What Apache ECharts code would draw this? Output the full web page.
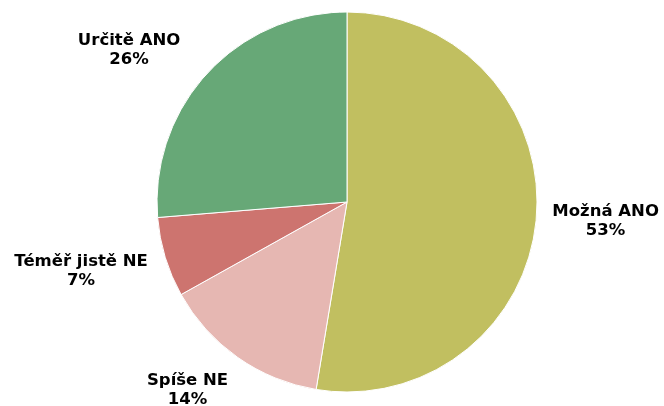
<!DOCTYPE html>
<html>
<head>
<meta charset="utf-8">
<script src="https://cdn.jsdelivr.net/npm/echarts@6/dist/echarts.min.js"></script>
<style>
  html, body { margin: 0; padding: 0; background: #fff; }
  #chart { width: 664px; height: 406px; }
</style>
</head>
<body>
<div id="chart"></div>
<script>
// categories and values (percent), clockwise from 12 o'clock
const categories = ['Možná ANO', 'Spíše NE', 'Téměř jistě NE', 'Určitě ANO'];
const values = [52.6, 14.3, 6.8, 26.3];
const colors = ['#C1BF60', '#E6B7B2', '#CD746F', '#67A877'];
// small nudges so labels sit where the original put them
const labelShift = [[-4, 2], [4, 20], [2, 10], [-11, -13]];

const chart = echarts.init(document.getElementById('chart'));

let option = {
  backgroundColor: '#fff',
  animation: false,
  series: [{
    type: 'pie',
    center: [347, 202],
    radius: 190,
    startAngle: 90,
    clockwise: true,
    avoidLabelOverlap: false,
    percentPrecision: 0,
    itemStyle: { borderColor: '#fff', borderWidth: 1 },
    label: {
      show: true,
      position: 'outside',
      formatter: '{b}\n{d}%',
      fontFamily: 'DejaVu Sans',
      fontWeight: 'bold',
      fontSize: 16.5,
      lineHeight: 19,
      color: '#000'
    },
    labelLine: { show: false, length: 15, length2: 0 },
    labelLayout: function (params) {
      // center the two text lines on each other
      let r = params.labelRect;
      let s = labelShift[params.dataIndex];
      return {
        x: r.x + r.width / 2 + s[0],
        y: r.y + r.height / 2 + s[1],
        align: 'center',
        verticalAlign: 'middle'
      };
    },
    emphasis: { disabled: true },
    data: categories.map(function (c, i) {
      return { name: c, value: values[i], itemStyle: { color: colors[i] } };
    })
  }]
};
chart.setOption(option);
</script>
</body>
</html>
